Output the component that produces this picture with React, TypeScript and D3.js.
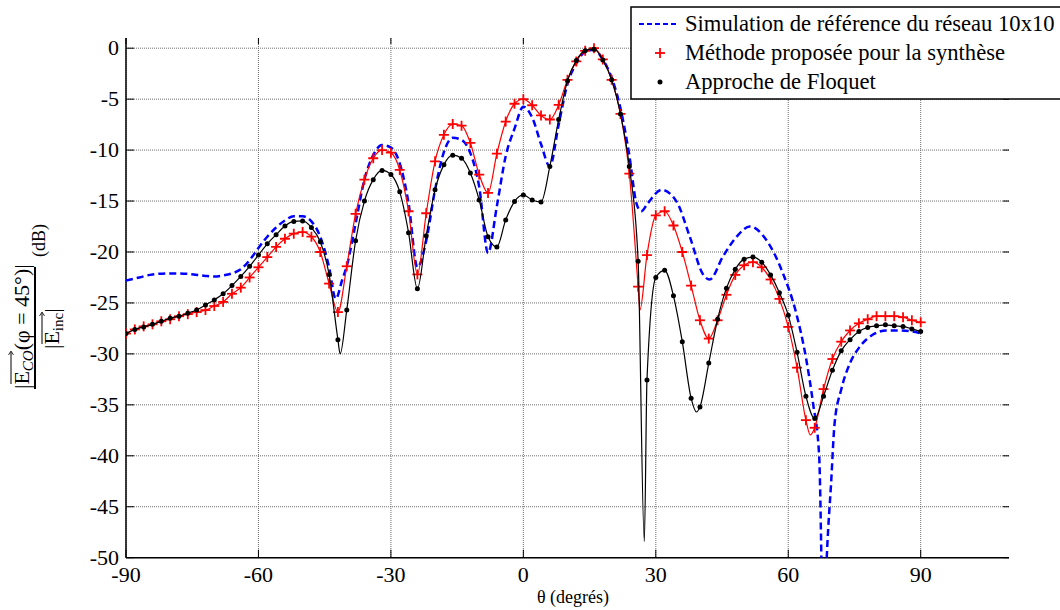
import React from 'react';
import * as d3 from 'd3';

// marker angles (every 2 degrees)
const markerTheta: number[] = d3.range(-90, 91, 2);

const redDb: number[] = [
  -28.0, -27.6, -27.3, -27.1, -26.8, -26.6, -26.3, -26.1, -25.9, -25.7,
  -25.3, -24.9, -24.1, -23.5, -22.5, -21.5, -20.5, -19.5, -18.7, -18.2,
  -18.05, -18.5, -20.0, -23.1, -25.9, -21.4, -16.25, -12.9, -10.8, -10.0,
  -10.25, -11.95, -16.0, -22.2, -16.2, -11.1, -8.5, -7.45, -7.6, -9.3,
  -12.4, -14.2, -10.35, -7.2, -5.45, -5.0, -5.6, -6.6, -7.0, -5.56,
  -3.1, -1.3, -0.26, 0.0, -1.1, -3.1, -6.45, -12.3, -23.4, -20.3,
  -16.4, -16.0, -17.4, -20.0, -23.3, -26.7, -28.5, -26.7, -24.2, -22.25,
  -21.3, -21.0, -21.5, -22.7, -24.6, -27.35, -31.35, -36.5, -37.25, -33.45,
  -30.5, -28.8, -27.7, -27.0, -26.6, -26.3, -26.3, -26.3, -26.4, -26.7,
  -26.9,
];

const blackDb: number[] = [
  -28.0, -27.6, -27.35, -27.1, -26.8, -26.5, -26.3, -26.0, -25.7, -25.2,
  -24.7, -24.1, -23.3, -22.4, -21.4, -20.3, -19.2, -18.3, -17.45, -17.0,
  -16.95, -17.6, -19.0, -22.2, -28.6, -25.7, -18.9, -15.0, -12.9, -12.0,
  -12.4, -14.1, -18.1, -23.6, -18.4, -13.9, -11.45, -10.5, -10.8, -12.25,
  -14.9, -18.5, -19.5, -16.85, -15.05, -14.4, -14.9, -15.1, -11.6, -7.0,
  -3.2, -1.2, -0.24, -0.1, -1.15, -3.1, -6.45, -11.6, -20.9, -32.55,
  -22.5, -21.8, -24.3, -28.8, -34.35, -35.2, -30.9, -26.6, -23.55, -21.7,
  -20.7, -20.5, -21.0, -22.25, -24.0, -26.2, -29.85, -34.15, -36.35, -34.15,
  -31.6, -29.7, -28.6, -27.8, -27.4, -27.25, -27.15, -27.25, -27.3, -27.55,
  -27.8,
];

// extra points of the continuous curves, between markers (deep nulls)
const redExtraTheta: number[] = [26.4, 65.0];
const redExtraDb: number[] = [-25.7, -37.95];
const blackExtraTheta: number[] = [-41.5, 27.4, 39.2];
const blackExtraDb: number[] = [-30.0, -48.4, -35.7];

// reference simulation (blue dashed)
const blueTheta: number[] = [
  -90, -87, -84, -80, -76, -72, -70, -68, -66, -64, -62, -60, -58, -56, -54, -52, -50, -48, -46, -44,
  -42.5, -41, -40, -38, -36, -34, -32, -30, -28, -26, -24, -22, -20, -18, -16, -14, -12, -10, -8,
  -6, -4, -2, 0, 2, 4, 6, 8, 10, 12, 14, 16, 18, 20, 22, 24, 25.6, 26.7, 28.2, 31.3, 34.7, 37.7,
  40.7, 42.2, 45.2, 48.3, 51.3, 55, 58.8, 61.8, 64.1, 65.6, 67, 68, 68.8, 69.7, 70.5, 72, 74,
  76.2, 79.2, 82.2, 85.2, 88.2, 90,
];
const blueDb: number[] = [
  -22.8, -22.5, -22.2, -22.1, -22.15, -22.35, -22.4, -22.3, -22.1, -21.7, -20.8, -19.6, -18.5, -17.6, -16.9, -16.5, -16.5, -17.0, -18.5, -21.5,
  -24.6, -22.7, -21.4, -17.2, -12.9, -10.5, -9.5, -9.75, -11.3, -15.2, -21.5, -18.9, -13.9, -10.2, -8.8, -9.0, -10.3, -13.6, -20.1,
  -15.5, -10.6, -7.9, -5.75, -6.8, -9.4, -11.6, -7.5, -3.5, -1.5, -0.35, -0.15, -1.1, -2.9, -5.9, -10.5, -15.2, -16.0, -15.2, -13.9, -15.05, -18.5,
  -22.2, -22.7, -20.45, -18.5, -17.5, -18.8, -22.1, -26.0, -30.6, -34.8, -40.0, -58.0, -49.2, -42.7, -36.8, -33.5, -30.9,
  -29.3, -28.1, -27.7, -27.7, -27.8, -28.0,
];

const xTicks: number[] = [-90, -60, -30, 0, 30, 60, 90];
const yTicks: number[] = [0, -5, -10, -15, -20, -25, -30, -35, -40, -45, -50];

const legendLabels: string[] = [
  'Simulation de référence du réseau 10x10',
  'Méthode proposée pour la synthèse',
  'Approche de Floquet',
];

const FONT = "'Liberation Serif', 'Times New Roman', 'DejaVu Serif', serif";

type P = [number, number];

function merge(a: number[], b: number[], ea: number[], eb: number[]): P[] {
  const pts: P[] = a.map((t, i) => [t, b[i]] as P);
  ea.forEach((t, i) => pts.push([t, eb[i]]));
  return pts.sort((p, q) => p[0] - q[0]);
}

export default function App() {
  const W = 1060;
  const H = 610;
  const L = 126, R = 1009, T = 38, B = 557.7;
  const x = d3.scaleLinear().domain([-90, 110]).range([L, R]);
  const y = d3.scaleLinear().domain([-50, 1]).range([B, T]);

  const line = d3
    .line<P>()
    .x((d) => x(d[0]))
    .y((d) => y(d[1]))
    .curve(d3.curveMonotoneX);

  const bluePts: P[] = blueTheta.map((t, i) => [t, blueDb[i]] as P);
  const redPts = merge(markerTheta, redDb, redExtraTheta, redExtraDb);
  const blackPts = merge(markerTheta, blackDb, blackExtraTheta, blackExtraDb);

  const redMarks: P[] = markerTheta.map((t, i) => [t, redDb[i]] as P);
  const blackMarks: P[] = markerTheta.map((t, i) => [t, blackDb[i]] as P);

  const gridColor = '#6e6e6e';

  return (
    <svg
      width={W}
      height={H}
      style={{ position: 'absolute', left: 0, top: 0, background: '#fff' }}
      fontFamily={FONT}
    >
      <defs>
        <clipPath id="plotclip">
          <rect x={L} y={T} width={R - L} height={B - T} />
        </clipPath>
      </defs>
      <rect x={0} y={0} width={W} height={H} fill="#fff" />

      {/* grid */}
      <g stroke={gridColor} strokeWidth={1} strokeDasharray="1,1">
        {xTicks.map((t) => (
          <line key={'gx' + t} x1={x(t)} x2={x(t)} y1={T} y2={B} />
        ))}
        {yTicks.map((t) => (
          <line key={'gy' + t} x1={L} x2={R} y1={y(t)} y2={y(t)} />
        ))}
      </g>

      {/* ticks */}
      <g stroke="#000" strokeWidth={1}>
        {xTicks.map((t) => (
          <g key={'tx' + t}>
            <line x1={x(t)} x2={x(t)} y1={B} y2={B - 8} />
            <line x1={x(t)} x2={x(t)} y1={T} y2={T + 6} />
          </g>
        ))}
        {yTicks.map((t) => (
          <g key={'ty' + t}>
            <line x1={L} x2={L + 8} y1={y(t)} y2={y(t)} />
            <line x1={R} x2={R - 6} y1={y(t)} y2={y(t)} />
          </g>
        ))}
      </g>

      {/* axes */}
      <line x1={L} x2={L} y1={T} y2={B} stroke="#000" strokeWidth={1.5} />
      <line x1={L} x2={R} y1={B} y2={B} stroke="#000" strokeWidth={1.5} />

      {/* tick labels */}
      <g fontSize={22} fill="#000">
        {yTicks.map((t) => (
          <text key={'ly' + t} x={119} y={y(t) + 7} textAnchor="end">
            {t === 0 ? '0' : String(t)}
          </text>
        ))}
        {xTicks.map((t) => (
          <text key={'lx' + t} x={x(t)} y={582} textAnchor="middle">
            {String(t)}
          </text>
        ))}
      </g>

      {/* curves */}
      <g clipPath="url(#plotclip)">
        <path d={line(bluePts) || ''} fill="none" stroke="#0000ff" strokeWidth={2.5} strokeDasharray="7,4" />
        <path d={line(redPts) || ''} fill="none" stroke="#ff0000" strokeWidth={1.2} />
        <g stroke="#ff0000" strokeWidth={1.8}>
          {redMarks.map((p, i) => (
            <g key={'rm' + i}>
              <line x1={x(p[0]) - 5} x2={x(p[0]) + 5} y1={y(p[1])} y2={y(p[1])} />
              <line x1={x(p[0])} x2={x(p[0])} y1={y(p[1]) - 5} y2={y(p[1]) + 5} />
            </g>
          ))}
        </g>
        <path d={line(blackPts) || ''} fill="none" stroke="#000" strokeWidth={1.2} />
        <g fill="#000">
          {blackMarks.map((p, i) => (
            <circle key={'bm' + i} cx={x(p[0])} cy={y(p[1])} r={2.5} />
          ))}
        </g>
      </g>

      {/* x label */}
      <text x={573} y={603} textAnchor="middle" fontSize={18}>
        θ (degrés)
      </text>

      {/* y label */}
      <g transform="translate(35,328) rotate(-90)" fontSize={22}>
        <text x={-61} y={-6}>
          <tspan>|E</tspan>
          <tspan fontSize={15} fontStyle="italic" dy={4}>CO</tspan>
          <tspan dy={-4}>(φ = 45°)|</tspan>
        </text>
        <line x1={-56} x2={-24} y1={-24} y2={-24} stroke="#000" strokeWidth={1} />
        <path d="M-27,-26.5 L-23,-24 L-27,-21.5" fill="none" stroke="#000" strokeWidth={0.8} />
        <line x1={-61} x2={61} y1={0} y2={0} stroke="#000" strokeWidth={2} />
        <text x={-21} y={24}>
          <tspan>|E</tspan>
          <tspan fontSize={15} dy={4}>inc</tspan>
          <tspan dy={-4}>|</tspan>
        </text>
        <line x1={-16} x2={15} y1={7} y2={7} stroke="#000" strokeWidth={1} />
        <path d="M12,4.5 L16,7 L12,9.5" fill="none" stroke="#000" strokeWidth={0.8} />
        <text x={71} y={10} fontSize={18}>(dB)</text>
      </g>

      {/* legend */}
      <g>
        <rect x={631} y={7} width={450} height={92} fill="#fff" stroke="#000" strokeWidth={1.5} />
        <line x1={639} x2={678} y1={24} y2={24} stroke="#0000ff" strokeWidth={2} strokeDasharray="5,3" />
        <g stroke="#ff0000" strokeWidth={1.8}>
          <line x1={655} x2={665} y1={53} y2={53} />
          <line x1={660} x2={660} y1={48} y2={58} />
        </g>
        <circle cx={660} cy={82} r={2.5} fill="#000" />
        {legendLabels.map((s, i) => (
          <text key={'lg' + i} x={685} y={31 + i * 29} fontSize={22.6}>
            {s}
          </text>
        ))}
      </g>
    </svg>
  );
}
